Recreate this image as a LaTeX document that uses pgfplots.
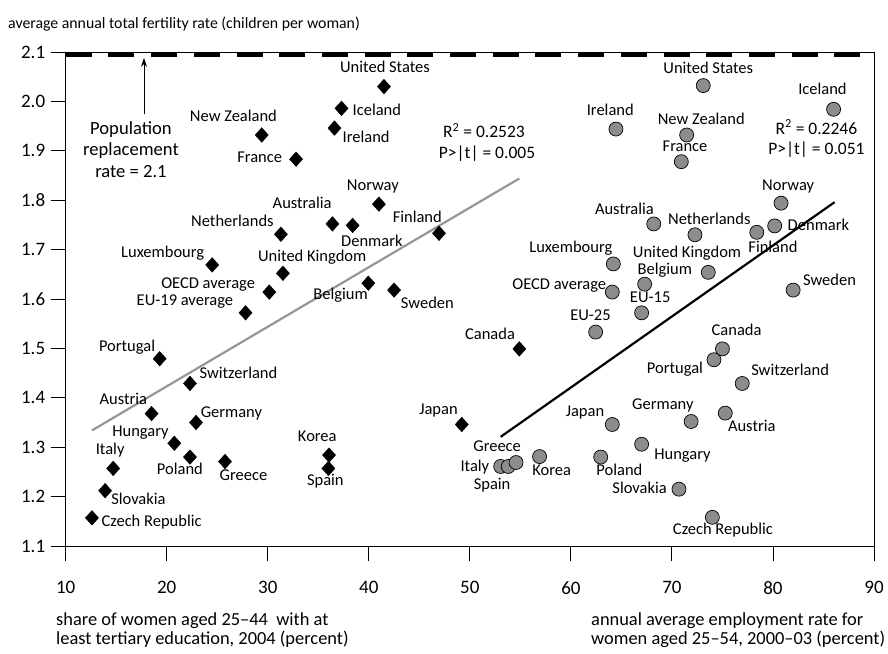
\documentclass[border=0pt]{standalone}
\usepackage{fontspec}
\setmainfont{Carlito}
\usepackage{pgfplots}
\pgfplotsset{compat=1.18}
\usetikzlibrary{arrows.meta}

\definecolor{dotgray}{RGB}{140,140,140}
\definecolor{fitgray}{RGB}{150,150,150}

% fertility vs. tertiary education share (2004)
\pgfplotstableread{
x      y
29.4   1.932
32.8   1.883
31.3   1.731
24.5   1.669
31.5   1.652
30.15  1.614
27.8   1.572
19.3   1.479
22.3   1.429
18.5   1.368
22.9   1.350
20.75  1.308
22.3   1.280
25.77  1.271
14.7   1.257
13.9   1.212
12.6   1.157
41.5   2.030
37.3   1.986
36.6   1.946
41.0   1.792
36.4   1.752
38.4   1.749
46.95  1.733
39.95  1.632
42.5   1.618
54.9   1.499
49.2   1.346
36.06  1.284
36.0   1.257
}\edudata

% fertility vs. female employment rate (2000-03)
\pgfplotstableread{
x      y
73.1   2.032
86.0   1.984
64.46  1.944
71.46  1.932
70.93  1.878
80.8   1.794
68.2   1.752
72.28  1.730
78.4   1.735
80.17  1.748
64.2   1.671
73.6   1.654
67.3   1.630
64.1   1.614
67.0   1.572
62.45  1.533
82.0   1.618
75.0   1.499
74.16  1.477
76.96  1.429
71.9   1.352
75.28  1.369
64.1   1.346
67.0   1.306
62.95  1.280
70.7   1.215
74.0   1.158
53.05  1.261
53.8   1.261
54.57  1.269
56.9   1.281
}\empdata

\newcommand{\labfont}{\fontsize{16.5}{19}\selectfont}
\newcommand{\notefont}{\fontsize{18.6}{22}\selectfont}
\newcommand{\statfont}{\fontsize{17.5}{20}\selectfont}
\newcommand{\titfont}{\fontsize{15.8}{19}\selectfont}
\newcommand{\xlabfont}{\fontsize{18.4}{22}\selectfont}
\tikzset{
  lab/.style={font=\labfont, inner sep=0pt, text height=0.64em, text depth=0pt, anchor=center},
  note/.style={lab, font=\notefont},
  stat/.style={lab, font=\statfont},
}
\newcommand{\lbl}[3]{\node[lab] at (axis cs:#1,#2) {#3};}

\begin{document}
\begin{tikzpicture}
\begin{axis}[
  scale only axis,
  width=808.3pt, height=494pt,
  xmin=10, xmax=90, ymin=1.1, ymax=2.1,
  xtick={10,20,30,40,50,60,70,80,90},
  ytick={1.1,1.2,1.3,1.4,1.5,1.6,1.7,1.8,1.9,2.0,2.1},
  tick pos=left,
  tick align=outside,
  major tick length=15pt,
  tick style={black, line width=0.9pt},
  axis line style={black, line width=0.9pt},
  ticklabel style={font=\fontsize{19}{22}\selectfont},
  xticklabel style={yshift=-17pt},
  yticklabel style={xshift=-2pt, /pgf/number format/.cd, fixed, fixed zerofill, precision=1},
  /pgf/number format/assume math mode=true,
  clip=false,
]
\coordinate (O) at (rel axis cs:0,0);

% replacement-rate reference line
\addplot[black, line width=4.6pt, dash pattern=on 26pt off 16.7pt]
  coordinates {(10,2.094) (90,2.094)};

% fitted lines
\addplot[fitgray, line width=2.2pt] coordinates {(12.6,1.334) (54.9,1.844)};
\addplot[black, line width=2.2pt] coordinates {(53.05,1.321) (86.1,1.796)};

% scatter points
\addplot[only marks, mark=diamond*, mark size=7.3pt,
  mark options={fill=black, draw=black, xscale=1.2}] table {\edudata};
\addplot[only marks, mark=*, mark size=7pt,
  mark options={fill=dotgray, draw=black, line width=0.7pt}] table {\empdata};

% arrow to the reference line
\draw[-{Stealth[length=9pt,width=6pt]}, line width=0.9pt] (axis cs:17.75,1.975) -- (axis cs:17.75,2.088);
\node[note] at (axis cs:16.46,1.940) {Population};
\node[note] at (axis cs:16.46,1.896) {replacement};
\node[note] at (axis cs:16.46,1.852) {rate = 2.1};

% labels, left group
\lbl{41.6}{2.065}{United States}
\lbl{40.8}{1.977}{Iceland}
\lbl{39.74}{1.924}{Ireland}
\lbl{26.6}{1.966}{New Zealand}
\lbl{29.2}{1.883}{France}
\lbl{26.5}{1.753}{Netherlands}
\lbl{33.4}{1.789}{Australia}
\lbl{40.4}{1.827}{Norway}
\lbl{44.8}{1.762}{Finland}
\lbl{40.3}{1.713}{Denmark}
\lbl{19.6}{1.691}{Luxembourg}
\lbl{34.4}{1.682}{United Kingdom}
\lbl{24.1}{1.628}{OECD average}
\lbl{21.8}{1.593}{EU-19 average}
\lbl{37.2}{1.605}{Belgium}
\lbl{45.8}{1.588}{Sweden}
\lbl{52.0}{1.525}{Canada}
\lbl{46.9}{1.372}{Japan}
\lbl{16.07}{1.500}{Portugal}
\lbl{27.1}{1.445}{Switzerland}
\lbl{15.7}{1.392}{Austria}
\lbl{26.4}{1.367}{Germany}
\lbl{17.4}{1.328}{Hungary}
\lbl{14.4}{1.292}{Italy}
\lbl{21.3}{1.252}{Poland}
\lbl{27.6}{1.240}{Greece}
\lbl{17.2}{1.191}{Slovakia}
\lbl{18.5}{1.146}{Czech Republic}
\lbl{34.9}{1.318}{Korea}
\lbl{35.7}{1.228}{Spain}
\node[stat] at (axis cs:51.4,1.933) {R\textsuperscript{2} = 0.2523};
\node[stat] at (axis cs:51.7,1.891) {P>|t| = 0.005};

% labels, right group
\lbl{73.6}{2.062}{United States}
\lbl{84.9}{2.021}{Iceland}
\lbl{63.9}{1.978}{Ireland}
\lbl{72.9}{1.959}{New Zealand}
\lbl{71.3}{1.905}{France}
\node[stat] at (axis cs:84.3,1.940) {R\textsuperscript{2} = 0.2246};
\node[stat] at (axis cs:84.3,1.898) {P>|t| = 0.051};
\lbl{81.5}{1.827}{Norway}
\lbl{65.3}{1.778}{Australia}
\lbl{73.7}{1.757}{Netherlands}
\lbl{84.5}{1.746}{Denmark}
\lbl{80.0}{1.700}{Finland}
\lbl{60.0}{1.700}{Luxembourg}
\lbl{71.5}{1.690}{United Kingdom}
\lbl{69.3}{1.657}{Belgium}
\lbl{58.85}{1.626}{OECD average}
\lbl{67.85}{1.599}{EU-15}
\lbl{61.94}{1.563}{EU-25}
\lbl{85.6}{1.634}{Sweden}
\lbl{76.4}{1.532}{Canada}
\lbl{70.3}{1.456}{Portugal}
\lbl{81.7}{1.451}{Switzerland}
\lbl{61.4}{1.369}{Japan}
\lbl{69.1}{1.382}{Germany}
\lbl{77.9}{1.339}{Austria}
\lbl{71.05}{1.281}{Hungary}
\lbl{64.8}{1.249}{Poland}
\lbl{66.8}{1.213}{Slovakia}
\lbl{75.05}{1.129}{Czech Republic}
\lbl{52.7}{1.298}{Greece}
\lbl{50.5}{1.257}{Italy}
\lbl{52.2}{1.221}{Spain}
\lbl{58.1}{1.250}{Korea}

% axis titles
\node[font=\titfont, anchor=base west, inner sep=0pt] at (axis cs:4.29,2.148)
  {average annual total fertility rate (children per woman)};
\node[font=\xlabfont, anchor=base west, inner sep=0pt] at (axis cs:9.04,0.940)
  {share of women aged 25–44\ \ with at};
\node[font=\xlabfont, anchor=base west, inner sep=0pt] at (axis cs:9.04,0.9006)
  {least tertiary education, 2004 (percent)};
\node[font=\xlabfont, anchor=base west, inner sep=0pt] at (axis cs:61.99,0.940)
  {annual average employment rate for};
\node[font=\xlabfont, anchor=base west, inner sep=0pt] at (axis cs:61.99,0.9006)
  {women aged 25–54, 2000–03 (percent)};
\end{axis}
\pgfresetboundingbox
\path (O) ++(-65.7pt,-107pt) rectangle ++(888pt,653pt);
\end{tikzpicture}
\end{document}
